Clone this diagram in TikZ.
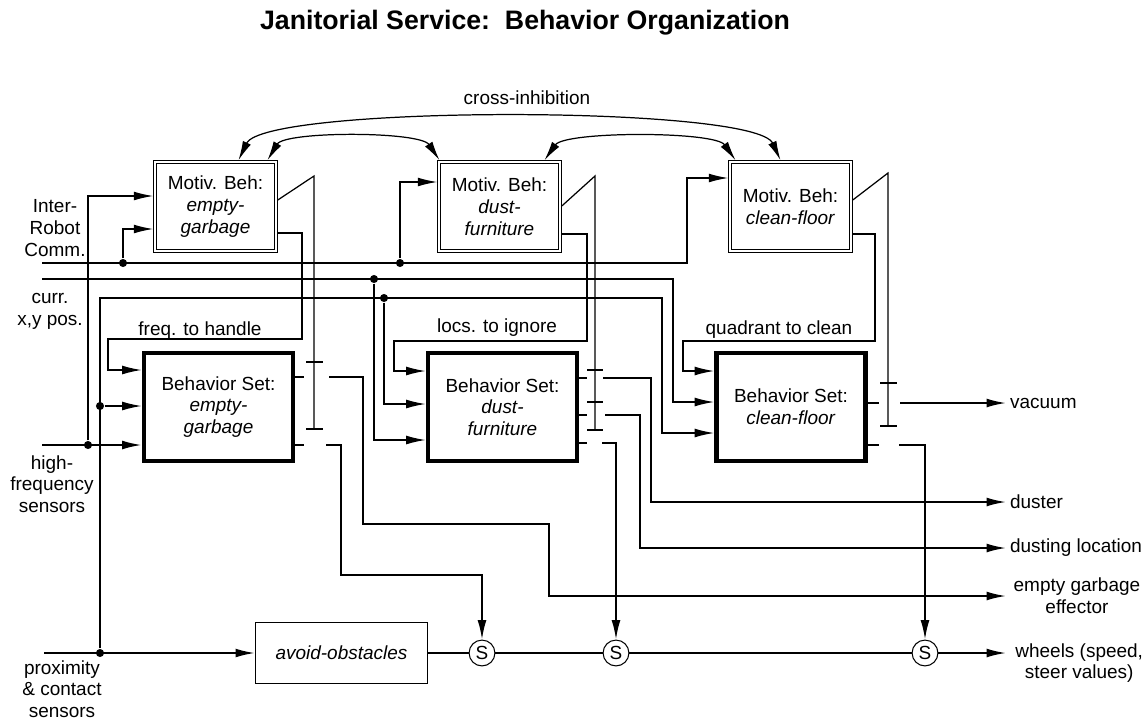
\documentclass[tikz,border=0pt]{standalone}
\usepackage{fontspec}
\setmainfont{Liberation Sans}
\usetikzlibrary{positioning,calc,arrows.meta}
\tikzset{motiv/.style={draw,double,double distance=1.1pt,line width=.55pt,outer sep=1.1pt,minimum width=68.7pt,minimum height=50.5pt,align=center,inner sep=0pt}}
\tikzset{bset/.style={draw,line width=2.6pt,minimum width=85pt,minimum height=61.5pt,align=center}}
\tikzset{dot/.style={circle,fill=black,minimum size=4.6pt,inner sep=0pt}}
\tikzset{sw/.style={draw,circle,minimum size=14.7pt,inner sep=0pt,line width=.6pt}}
\tikzset{heavy/.style={line width=1pt}}
\tikzset{outlbl/.style={anchor=west,align=center,inner sep=2pt}}
\tikzset{>={Latex[length=11pt,width=5pt]}}

\begin{document}
\begin{tikzpicture}[x=0.02cm,y=-0.02cm,line width=.7pt,font=\fontsize{10.8}{12.4}\selectfont]
	\useasboundingbox (0,0) rectangle (1147,721);
	\node[font=\fontsize{15.2}{17}\selectfont\bfseries] (title) at (525,23) {Janitorial Service:\ \ Behavior Organization};
	\node[] (ci) at (527,98) {cross-inhibition};

	\node[motiv] (m1) at (215.5,206.5) {Motiv. Beh:\\\textit{empty-}\\\textit{garbage}};
	\node[motiv] (m2) at (499.5,206.5) {Motiv. Beh:\\\textit{dust-}\\\textit{furniture}};
	\node[motiv] (m3) at (790.5,206.5) {Motiv. Beh:\\\textit{clean-floor}};

	\node[bset] (bs1) at (218.5,407) {Behavior Set:\\\textit{empty-}\\\textit{garbage}};
	\node[bset] (bs2) at (502.5,407) {Behavior Set:\\\textit{dust-}\\\textit{furniture}};
	\node[bset] (bs3) at (791,407) {Behavior Set:\\\textit{clean-floor}};

	\node[draw,line width=.6pt,minimum width=98pt,minimum height=34.6pt] (av) at (341.5,653) {\textit{avoid-obstacles}};
	\node[sw] (s1) at (482,653) {S};
	\node[sw] (s2) at (616,653) {S};
	\node[sw] (s3) at (925,653) {S};

	% inputs
	\node[align=center] (lirc) at (55,228) {Inter-\\Robot\\Comm.};
	\node[align=center] (lpos) at (50,311) {curr.\\x,y pos.};
	\node[align=center] (lhf) at (52,484) {high-\\frequency\\sensors};
	\node[align=center] (lprox) at (62,689) {proximity\\\& contact\\sensors};
	\coordinate (irc) at (42,263);
	\coordinate (pos) at (42,279);
	\coordinate (hf) at (42,445);
	\coordinate (prox) at (44,653);

	\coordinate[dot] (d1) at (123,263);
	\coordinate[dot] (d2) at (400,263);
	\coordinate[dot] (d3) at (88,445);
	\coordinate[dot] (d4) at (100,653);
	\coordinate[dot] (d5) at (100,406);
	\coordinate[dot] (d6) at (374,279);
	\coordinate[dot] (d7) at (384,298);

	\draw[->] (irc) -| (687,178) -- (m3.west |- 0,178);
	\draw[->] (d1) |- (m1.west |- 0,229);
	\draw[->] (d2) |- (m2.west |- 0,182);
	\draw[->] (d3) |- (m1.west |- 0,196);
	\draw[->] (pos) -| (673,402) -- (bs3.west |- 0,402);
	\draw[->] (d6) |- (bs2.west |- 0,440);
	\draw[->] (d4) |- (662,298) |- (bs3.west |- 0,433);
	\draw[->] (d7) |- (bs2.west |- 0,404);
	\draw[->] (d5) -- (bs1.west |- d5);
	\draw[->,heavy] (hf) -- (bs1.west |- hf);

	% motivation outputs
	\draw[->] (m1.east |- 0,233) -| (302,339) -| (108,370) -- (bs1.west |- 0,370);
	\draw[->] (m2.east |- 0,234) -| (587,341) -| (394,371) -- (bs2.west |- 0,371);
	\draw[->] (m3.east |- 0,234) -| (875,341) -| (683,371) -- (bs3.west |- 0,371);
	\node[] (fq) at (200,331) {freq. to handle};
	\node[] (li) at (497,328) {locs. to ignore};
	\node[] (qc) at (779,330) {quadrant to clean};

	% gates
	\draw (m1.east |- 0,200) -- (314,176) -- (314,429);
	\foreach \y in {362,429} \draw (306,\y) -- (323,\y);
	\draw (m2.east |- 0,206) -- (595,176) -- (595,430);
	\foreach \y in {370,402,430} \draw (587,\y) -- (603,\y);
	\draw (m3.east |- 0,200) -- (888,173) -- (888,426);
	\foreach \y in {383,426} \draw (880,\y) -- (897,\y);

	\foreach \y in {377,445} \draw (bs1.east |- 0,\y) -- (304,\y);
	\foreach \y in {378,415,443} \draw (bs2.east |- 0,\y) -- (587,\y);
	\foreach \y in {403,445} \draw (bs3.east |- 0,\y) -- (879,\y);

	% outputs
	\node[outlbl] (vac) at (1006,403) {vacuum};
	\node[outlbl] (dus) at (1006,502) {duster};
	\node[outlbl] (dloc) at (1006,548) {dusting location};
	\node[outlbl,inner xsep=4pt] (egb) at (1006,596) {empty garbage\\effector};
	\node[outlbl,inner xsep=5pt] (whl) at (1006,663) {wheels (speed,\\steer values)};

	\draw[->,heavy] (329,377) -| (363,524) -| (549,596) -- (egb);
	\draw[->,heavy] (326,445) -| (341,575) -| (s1);
	\draw[->,heavy] (603,378) -| (651,502) -- (dus);
	\draw[->,heavy] (605,415) -| (640,548) -- (dloc);
	\draw[->,heavy] (602,443) -| (s2);
	\draw[->,heavy] (900,403) -- (vac);
	\draw[->,heavy] (899,445) -| (s3);

	\draw[->,heavy] (prox) -- (av);
	\draw[heavy] (av) -- (s1) -- (s2) -- (s3);
	\draw[->,heavy] (s3) -- (whl.west |- s3);

	% cross-inhibition
	\draw[<->] ($(m1.north)+(23,0)$) .. controls (265,105) and (755,105) .. ($(m3.north)+(-10,0)$);
	\draw[<->] ($(m1.north)+(52,0)$) .. controls (285,131) and (420,131) .. ($(m2.north)+(-60,0)$);
	\draw[<->] ($(m2.north)+(45,0)$) .. controls (565,131) and (715,131) .. ($(m3.north)+(-55,0)$);
\end{tikzpicture}
\end{document}
